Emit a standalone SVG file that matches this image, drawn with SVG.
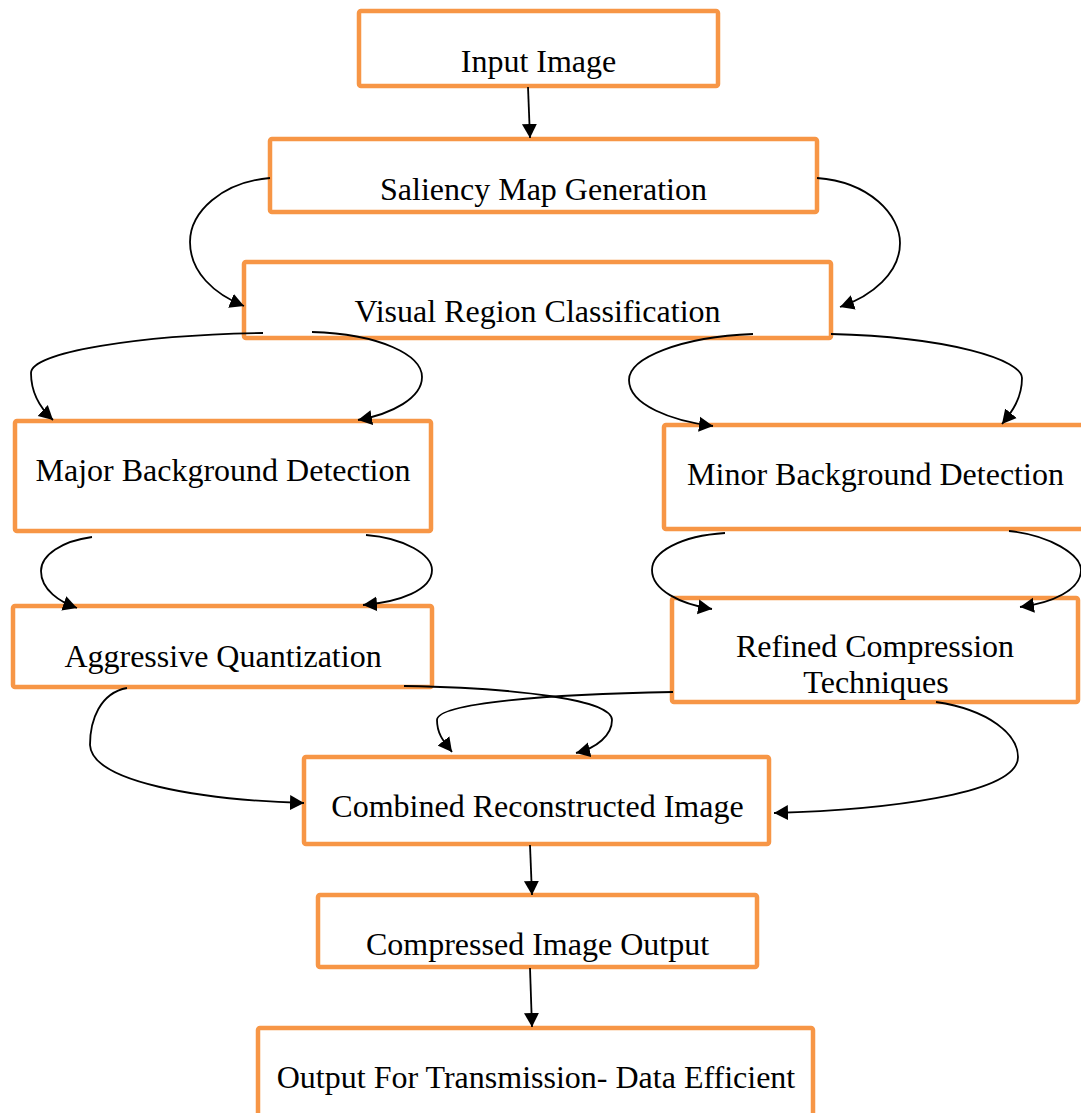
<svg xmlns="http://www.w3.org/2000/svg" width="1081" height="1113" viewBox="0 0 1081 1113">
  <defs>
    <style>
      .box { fill: #ffffff; stroke: #F79646; stroke-width: 4.5; }
      .lbl { font-family: "Liberation Serif", "Times New Roman", serif; font-size: 32px; fill: #000000; text-anchor: middle; }
      .con { fill: none; stroke: #000000; stroke-width: 1.8; marker-end: url(#arr); }
    </style>
    <marker id="arr" markerUnits="userSpaceOnUse" markerWidth="16" markerHeight="16" refX="14" refY="8" orient="auto">
      <path d="M0,0.5 L14,8 L0,15.5 Z" fill="#000000"/>
    </marker>
  </defs>
  <rect width="1081" height="1113" fill="#ffffff"/>

  <g id="n-input">
    <rect class="box" x="359" y="11" width="359" height="75" rx="2"/>
    <text class="lbl" x="538.5" y="72">Input Image</text>
  </g>
  <g id="n-saliency">
    <rect class="box" x="270" y="139" width="547" height="73" rx="2"/>
    <text class="lbl" x="543.5" y="200">Saliency Map Generation</text>
  </g>
  <g id="n-visual">
    <rect class="box" x="244" y="262" width="587" height="76" rx="2"/>
    <text class="lbl" x="537.5" y="322">Visual Region Classification</text>
  </g>
  <g id="n-major">
    <rect class="box" x="15" y="421" width="416" height="110" rx="2"/>
    <text class="lbl" x="223" y="481">Major Background Detection</text>
  </g>
  <g id="n-minor">
    <rect class="box" x="664" y="425" width="423" height="104" rx="2"/>
    <text class="lbl" x="875.5" y="485">Minor Background Detection</text>
  </g>
  <g id="n-aggressive">
    <rect class="box" x="13" y="606" width="419" height="81" rx="2"/>
    <text class="lbl" x="223" y="667">Aggressive Quantization</text>
  </g>
  <g id="n-refined">
    <rect class="box" x="672" y="598" width="406" height="104" rx="2"/>
    <text class="lbl" x="875" y="657">Refined Compression</text>
    <text class="lbl" x="876" y="693">Techniques</text>
  </g>
  <g id="n-combined">
    <rect class="box" x="304" y="757" width="465" height="87" rx="2"/>
    <text class="lbl" x="537.5" y="817">Combined Reconstructed Image</text>
  </g>
  <g id="n-compressed">
    <rect class="box" x="318" y="895" width="439" height="72" rx="2"/>
    <text class="lbl" x="537.5" y="955">Compressed Image Output</text>
  </g>
  <g id="n-output">
    <rect class="box" x="258" y="1028" width="555" height="100" rx="2"/>
    <text class="lbl" x="536" y="1088">Output For Transmission- Data Efficient</text>
  </g>

  <g id="connectors">
    <path class="con" d="M528,87 L530,138"/>
    <path class="con" d="M270,178 C222,182 190,212 190,242 C190,272 214,294 244,306"/>
    <path class="con" d="M817,178 C870,182 900,215 900,243 C900,273 872,296 840,307"/>
    <path class="con" d="M263,333 C140,335 31,352 31,373 C31,392 40,408 53,420"/>
    <path class="con" d="M312,332 C380,334 422,355 422,377 C422,398 392,414 358,420"/>
    <path class="con" d="M753,334 C680,337 629,358 629,380 C629,405 672,421 713,426"/>
    <path class="con" d="M831,334 C950,337 1022,360 1022,378 C1022,398 1012,412 1002,424"/>
    <path class="con" d="M92,537 C62,541 41,555 41,571 C41,590 60,602 77,608"/>
    <path class="con" d="M366,535 C405,538 432,555 432,570 C432,590 400,602 363,605"/>
    <path class="con" d="M725,533 C680,536 652,552 652,570 C652,590 680,604 712,609"/>
    <path class="con" d="M1009,531 C1050,535 1081,555 1081,570 C1081,590 1052,603 1020,607"/>
    <path class="con" d="M127,688 C100,693 90,720 90,745 C92,782 200,800 304,803"/>
    <path class="con" d="M404,686 C520,688 612,700 612,720 C612,735 597,748 576,753"/>
    <path class="con" d="M673,692 C550,694 437,703 437,720 C437,735 445,743 452,752"/>
    <path class="con" d="M936,702 C990,710 1018,735 1018,757 C1018,795 880,810 774,813"/>
    <path class="con" d="M530,845 L532,895"/>
    <path class="con" d="M530,968 L532,1027"/>
  </g>
</svg>
